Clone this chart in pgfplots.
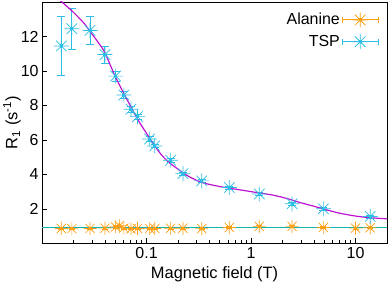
\documentclass[border=0pt]{standalone}
\usepackage{pgfplots}
\usepackage{pgfplotstable}
\pgfplotsset{compat=1.18}
\usepackage{fontspec}
\setmainfont{Liberation Sans}
\definecolor{tspc}{RGB}{45,190,230}
\definecolor{alac}{RGB}{255,160,20}
\definecolor{fitm}{RGB}{190,20,210}
\definecolor{fitt}{RGB}{20,180,175}
\pgfdeclareplotmark{gstar}{%
  \pgfpathmoveto{\pgfqpoint{-\pgfplotmarksize}{0pt}}%
  \pgfpathlineto{\pgfqpoint{\pgfplotmarksize}{0pt}}%
  \pgfpathmoveto{\pgfqpoint{0pt}{-\pgfplotmarksize}}%
  \pgfpathlineto{\pgfqpoint{0pt}{\pgfplotmarksize}}%
  \pgfpathmoveto{\pgfqpoint{-0.707\pgfplotmarksize}{-0.707\pgfplotmarksize}}%
  \pgfpathlineto{\pgfqpoint{0.707\pgfplotmarksize}{0.707\pgfplotmarksize}}%
  \pgfpathmoveto{\pgfqpoint{-0.707\pgfplotmarksize}{0.707\pgfplotmarksize}}%
  \pgfpathlineto{\pgfqpoint{0.707\pgfplotmarksize}{-0.707\pgfplotmarksize}}%
  \pgfusepathqstroke
  \pgfpathrectangle{\pgfqpoint{-1.5pt}{-1.5pt}}{\pgfqpoint{3pt}{3pt}}%
  \pgfusepathqfill
}
\newcommand{\legimg}[1]{%
  \draw[#1,line width=0.8pt] (0pt,0pt)--(36pt,0pt) (0pt,-3pt)--(0pt,3pt) (36pt,-3pt)--(36pt,3pt);
  \path[draw=#1,fill=#1,line width=0.8pt] plot[mark=gstar,mark size=7.5pt] coordinates {(18pt,0pt)};}

\pgfplotstableread{
x y ey
0.0153 11.45 1.7
0.0193 12.45 1.2
0.0288 12.35 0.8
0.040 10.95 0.5
0.0506 9.70 0.3
0.0607 8.60 0.2
0.071 7.78 0.2
0.082 7.35 0.15
0.107 6.05 0.15
0.120 5.65 0.1
0.170 4.82 0.1
0.223 4.04 0.1
0.337 3.62 0.08
0.62 3.24 0.08
1.2 2.86 0.08
2.47 2.29 0.08
4.92 2.00 0.08
13.8 1.56 0.08
}\tsp

\pgfplotstableread{
x y ey
0.0153 0.86 0.05
0.0193 0.85 0.05
0.0288 0.86 0.05
0.040 0.88 0.05
0.0506 0.95 0.05
0.055 1.02 0.05
0.0607 0.88 0.05
0.071 0.84 0.05
0.082 0.86 0.05
0.107 0.85 0.05
0.120 0.86 0.05
0.170 0.87 0.05
0.223 0.87 0.05
0.337 0.85 0.05
0.62 0.92 0.05
1.2 0.98 0.05
2.47 0.98 0.05
4.92 0.92 0.05
10.0 0.88 0.05
13.8 0.90 0.05
}\ala

\begin{document}
\begin{tikzpicture}
\begin{axis}[
  name=ax,
  scale only axis,
  width=346pt, height=242pt,
  xmode=log,
  xmin=0.01, xmax=20,
  ymin=0, ymax=14,
  xtick={0.1,1,10},
  xticklabels={0.1,1,10},
  minor xtick={0.02,0.03,0.04,0.05,0.06,0.07,0.08,0.09,0.2,0.3,0.4,0.5,0.6,0.7,0.8,0.9,2,3,4,5,6,7,8,9},
  ytick={2,4,6,8,10,12},
  tick align=inside,
  tick pos=left,
  major tick length=5pt,
  minor tick length=3pt,
  every tick/.style={black, line width=0.6pt},
  axis line style={line width=0.8pt, black},
  /pgf/number format/assume math mode=true,
  tick label style={font=\fontsize{16}{19}\selectfont},
  xticklabel style={yshift=-1pt},
  label style={font=\fontsize{16.5}{19}\selectfont},
  xlabel={Magnetic field (T)},
  ylabel={R\textsubscript{1} (s\textsuperscript{-1})},
  xlabel style={at={(rel axis cs:0.5,0)}, anchor=center, yshift=-31pt},
  ylabel style={at={(rel axis cs:0,0.5)}, anchor=center, yshift=30pt},
  legend style={at={(rel axis cs:0.976,0.962)}, anchor=north east, draw=none, fill=none,
    font=\fontsize{16}{19}\selectfont, row sep=5pt, inner sep=0pt, cells={anchor=east}},
  legend plot pos=right,
]
\addplot[only marks, color=alac, line width=0.7pt, mark=gstar, mark size=6.5pt,
  mark options={fill=alac},
  legend image code/.code={\legimg{alac}},
  error bars/.cd, y dir=both, y explicit,
  error bar style={line width=0.8pt, alac},
  error mark options={rotate=90, mark size=3pt, alac},
  ] table[x=x, y=y, y error=ey] {\ala};
\addlegendentry{Alanine}
\addplot[only marks, color=tspc, line width=0.7pt, mark=gstar, mark size=7.5pt,
  mark options={fill=tspc},
  legend image code/.code={\legimg{tspc}},
  error bars/.cd, y dir=both, y explicit,
  error bar style={line width=0.9pt, tspc},
  error mark options={rotate=90, mark size=4pt, tspc},
  ] table[x=x, y=y, y error=ey] {\tsp};
\addlegendentry{TSP}
\addplot[color=fitm, line width=1.2pt, smooth, forget plot] coordinates {
(0.012,14.6) (0.0155,14.0) (0.02,13.4) (0.0258,12.7) (0.0288,12.3) (0.035,11.6)
(0.04,11.05) (0.05,9.7) (0.06,8.75) (0.0711,7.9) (0.085,7.05) (0.102,6.3)
(0.13,5.35) (0.158,4.78) (0.2,4.3) (0.25,3.9) (0.33,3.55) (0.45,3.35)
(0.62,3.2) (1.12,2.95) (1.6,2.8) (2.2,2.6) (3.0,2.35) (4.0,2.15) (5.0,1.98)
(7.0,1.75) (10,1.58) (14,1.48) (20,1.42)
};
\addplot[color=fitt, line width=1.2pt, forget plot] coordinates {(0.01,0.92) (20,0.92)};
\end{axis}
\path ([shift={(-41pt,-43pt)}]ax.south west) rectangle ([shift={(5pt,2pt)}]ax.north east);
\end{tikzpicture}
\end{document}
